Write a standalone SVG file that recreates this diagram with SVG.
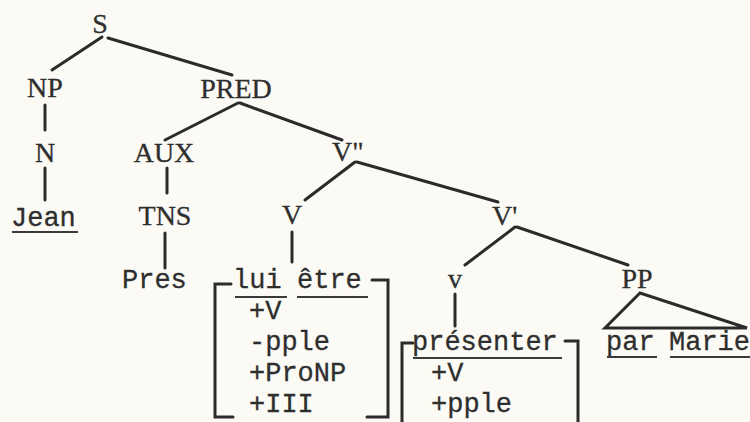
<svg xmlns="http://www.w3.org/2000/svg" width="750" height="422" viewBox="0 0 750 422">
<style>
.lab{font-family:"Liberation Serif","Times New Roman",serif;font-size:28px;fill:#2e2e2e;stroke:#2e2e2e;stroke-width:0.3;text-anchor:middle}
.tw{font-family:"Liberation Mono","Courier New",monospace;font-size:27px;fill:#2e2e2e;stroke:#2e2e2e;stroke-width:0.3}
.ln{stroke:#2b2b2b;stroke-width:3;fill:none;stroke-linecap:round;stroke-linejoin:miter}
.ul{stroke:#3a3a3a;stroke-width:2;fill:none}
</style>
<rect width="750" height="422" fill="#fbfaf5"/>
<g id="connectors">
<path class="ln" d="M102 37L52 70"/>
<path class="ln" d="M108 38L232 75"/>
<path class="ln" d="M45 105V130"/>
<path class="ln" d="M45 168V200"/>
<path class="ln" d="M238 103L165 140"/>
<path class="ln" d="M240 103L342 140"/>
<path class="ln" d="M167 168V193"/>
<path class="ln" d="M355 162L305 200"/>
<path class="ln" d="M357 162L498 202"/>
<path class="ln" d="M165 233V268"/>
<path class="ln" d="M292 232V262"/>
<path class="ln" d="M515 227L465 265"/>
<path class="ln" d="M517 227L628 265"/>
<path class="ln" d="M455 294V326"/>
<path class="ln" d="M640 293L605 328H747Z"/>
</g>
<g id="S"><text class="lab" x="100" y="33">S</text></g>
<g id="NP"><text class="lab" x="45" y="97">NP</text></g>
<g id="PRED"><text class="lab" x="236" y="98">PRED</text></g>
<g id="N"><text class="lab" x="45" y="162">N</text></g>
<g id="AUX"><text class="lab" x="164" y="162">AUX</text></g>
<g id="V2"><text class="lab" x="332" y="161" style="text-anchor:start">V"</text></g>
<g id="TNS"><text class="lab" x="165" y="225">TNS</text></g>
<g id="V"><text class="lab" x="292" y="224">V</text></g>
<g id="V1"><text class="lab" x="492" y="225" style="text-anchor:start">V'</text></g>
<g id="v"><text class="lab" x="455" y="288">v</text></g>
<g id="PP"><text class="lab" x="637" y="288">PP</text></g>
<g id="Jean"><text class="tw" x="11" y="226">Jean</text><path class="ul" d="M12 232H78"/></g>
<g id="Pres"><text class="tw" x="122" y="288">Pres</text></g>
<g id="lui-etre">
<text class="tw" x="233" y="288">lui</text><path class="ul" d="M235 297H287"/>
<text class="tw" x="297" y="288">être</text><path class="ul" d="M297 297H368"/>
<text class="tw" x="249" y="319">+V</text>
<text class="tw" x="249" y="350">-pple</text>
<text class="tw" x="249" y="381">+ProNP</text>
<text class="tw" x="249" y="412">+III</text>
<path class="ln" d="M231 284H215V417H233"/>
<path class="ln" d="M372 280H388V417H367"/>
</g>
<g id="presenter">
<text class="tw" x="412" y="350">présenter</text><path class="ul" d="M413 358H562"/>
<text class="tw" x="431" y="381">+V</text>
<text class="tw" x="431" y="412">+pple</text>
<path class="ln" d="M413 343H402V424"/>
<path class="ln" d="M565 341H578V424"/>
</g>
<g id="parMarie">
<text class="tw" x="606" y="350">par</text><path class="ul" d="M607 357H657"/>
<text class="tw" x="669" y="350">Marie</text><path class="ul" d="M670 357H750"/>
</g>
</svg>
